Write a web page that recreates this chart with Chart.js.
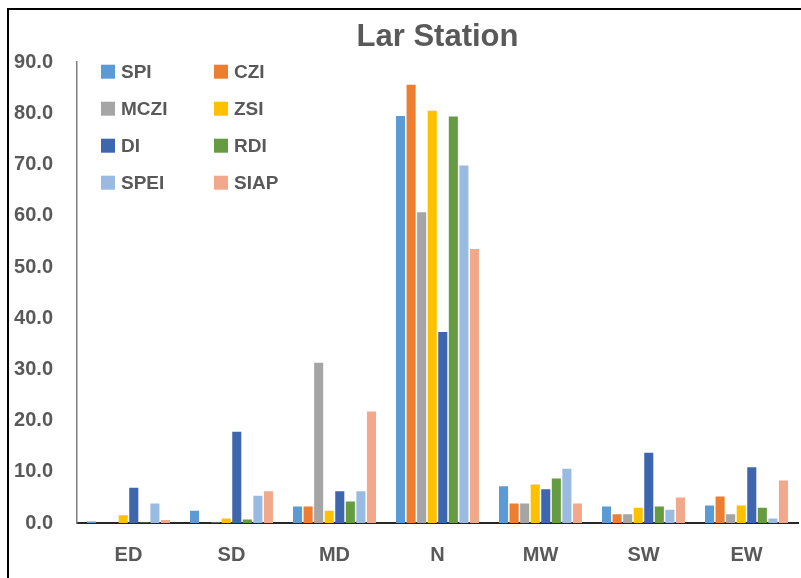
<!DOCTYPE html>
<html>
<head>
<meta charset="utf-8">
<script src="https://cdn.jsdelivr.net/npm/chart.js@4.4.1/dist/chart.umd.min.js"></script>
<style>
  html, body { margin: 0; padding: 0; background: #fff; }
  #wrap { position: relative; width: 801px; height: 578px; }
  #larChart { display: block; }
  #frame { position: absolute; left: 7px; top: 8px; right: 0; bottom: 0;
           border-left: 2px solid #000; border-top: 2px solid #000; pointer-events: none; }
</style>
</head>
<body>
<div id="wrap">
  <canvas id="larChart" width="801" height="578"></canvas>
  <div id="frame"></div>
</div>
<script>
// categories and series values (percent)
const categories = ["ED", "SD", "MD", "N", "MW", "SW", "EW"];
const spi  = [0.3, 2.4, 3.2, 79.5, 7.2, 3.2, 3.4];
const czi  = [0.0, 0.0, 3.2, 85.6, 3.8, 1.7, 5.2];
const mczi = [0.0, 0.1, 31.3, 60.7, 3.8, 1.7, 1.7];
const zsi  = [1.5, 0.9, 2.4, 80.5, 7.5, 3.0, 3.4];
const di   = [6.9, 17.8, 6.2, 37.3, 6.6, 13.7, 10.9];
const rdi  = [0.1, 0.7, 4.2, 79.4, 8.7, 3.2, 3.0];
const spei = [3.8, 5.3, 6.2, 69.8, 10.6, 2.6, 0.9];
const siap = [0.6, 6.2, 21.8, 53.5, 3.8, 5.0, 8.3];

const seriesNames = ["SPI", "CZI", "MCZI", "ZSI", "DI", "RDI", "SPEI", "SIAP"];
const seriesData = [spi, czi, mczi, zsi, di, rdi, spei, siap];
const seriesColors = ["#5B9BD5", "#ED7D31", "#A5A5A5", "#FFC000",
                      "#3E66AE", "#659B41", "#9ABBE1", "#F2A88B"];

const yTicks = [0, 10, 20, 30, 40, 50, 60, 70, 80, 90];

const textGrey = "#595959";
const fontFamily = '"Liberation Sans", Arial, sans-serif';

// legend drawn inside the plot, two columns
const cornerLegend = {
    id: "cornerLegend",
    afterDraw(chart) {
        const { ctx, chartArea } = chart;
        ctx.save();
        ctx.font = "bold 19px " + fontFamily;
        ctx.textBaseline = "middle";
        ctx.textAlign = "left";
        chart.data.datasets.forEach((ds, i) => {
            const col = i % 2;
            const row = Math.floor(i / 2);
            const x = chartArea.left + 24 + col * 113;
            const y = chartArea.top + 9.5 + row * 37;
            ctx.fillStyle = ds.backgroundColor;
            ctx.fillRect(x, y - 7, 14, 14);
            ctx.fillStyle = textGrey;
            ctx.fillText(ds.label, x + 20, y + 1);
        });
        ctx.restore();
    }
};

function renderChart() {
    const ctx = document.getElementById("larChart").getContext("2d");

    new Chart(ctx, {
        type: "bar",
        data: {
            labels: categories,
            datasets: seriesNames.map((name, i) => ({
                label: name,
                data: seriesData[i],
                backgroundColor: seriesColors[i],
                borderWidth: 0,
                barPercentage: 0.86,
                categoryPercentage: 0.82
            }))
        },
        options: {
            responsive: false,
            animation: false,
            layout: { padding: { top: 0, right: 3, bottom: 0, left: 0 } },
            plugins: {
                legend: { display: false },
                tooltip: { enabled: false },
                title: {
                    display: true,
                    text: "Lar Station",
                    fullSize: false,
                    color: textGrey,
                    font: { family: fontFamily, size: 31, weight: "bold" },
                    padding: { top: 19, bottom: 6 }
                }
            },
            scales: {
                x: {
                    afterFit(scale) { scale.height = 55; },
                    grid: { display: false, drawTicks: false },
                    border: { display: true, color: "#262626", width: 2 },
                    ticks: {
                        color: textGrey,
                        padding: 20,
                        font: { family: fontFamily, size: 20, weight: "bold" }
                    }
                },
                y: {
                    min: 0,
                    max: 90,
                    afterFit(scale) { scale.width = 77; },
                    afterBuildTicks(scale) { scale.ticks = yTicks.map(v => ({ value: v })); },
                    grid: { display: false, drawTicks: false },
                    border: { display: true, color: "#7F7F7F", width: 1.5 },
                    ticks: {
                        color: textGrey,
                        padding: 24,
                        font: { family: fontFamily, size: 20, weight: "bold" },
                        callback: v => v.toFixed(1)
                    }
                }
            }
        },
        plugins: [cornerLegend]
    });
}

document.addEventListener("DOMContentLoaded", renderChart);
</script>
</body>
</html>
